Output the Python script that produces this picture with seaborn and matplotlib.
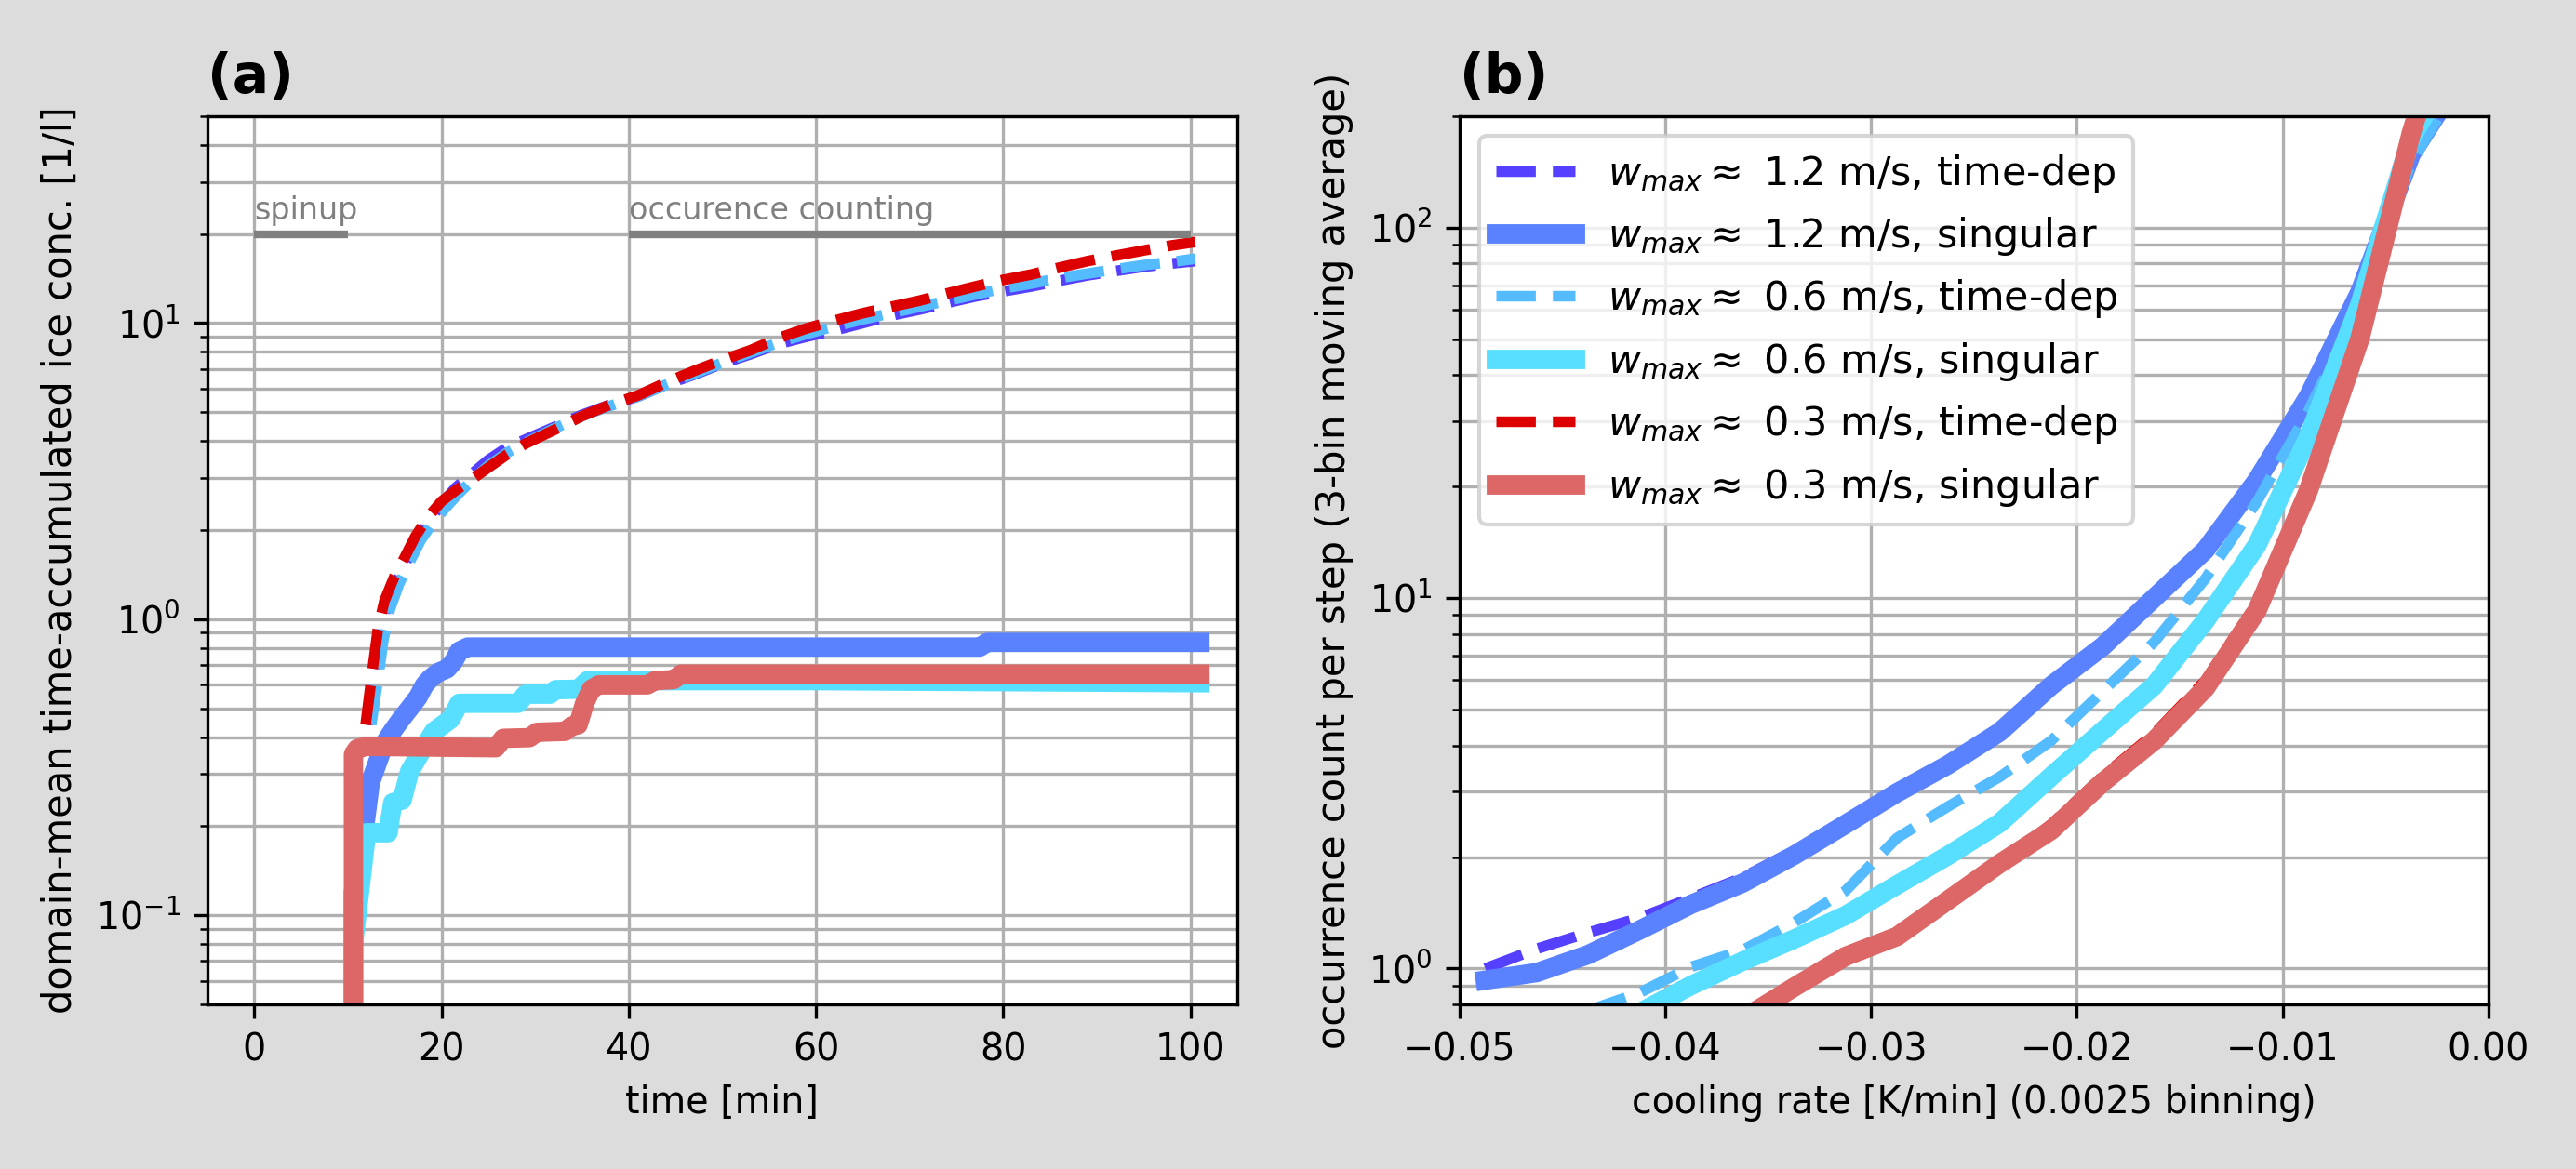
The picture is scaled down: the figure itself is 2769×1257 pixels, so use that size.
import numpy as np
import pandas as pd
import matplotlib
matplotlib.use("Agg")
import matplotlib.pyplot as plt
import seaborn as sns

# ---------------- data: panel (a) ----------------
# time-dependent runs (dashed)
td12_t = [12.1, 12.8, 13.4, 14.1, 15.2, 16.3, 17.5, 18.7, 20, 21.5, 23, 25, 27, 29, 32, 35, 38, 41, 44, 47, 50, 53, 56, 59, 62, 65, 68, 71, 74, 77, 80, 83, 86, 89, 92, 95, 98, 100.5]
td12_c = [0.44, 0.62, 0.85, 1.1, 1.35, 1.58, 1.88, 2.15, 2.45, 2.78, 3.05, 3.45, 3.8, 4.05, 4.45, 4.9, 5.3, 5.65, 6.2, 6.7, 7.3, 7.85, 8.5, 9.0, 9.45, 10.0, 10.6, 11.1, 11.7, 12.3, 12.8, 13.3, 13.9, 14.5, 15.0, 15.5, 15.9, 16.2]
td06_t = [12.5, 13.2, 13.8, 14.5, 15.5, 16.6, 17.8, 19, 20.3, 21.8, 23.3, 25, 27, 29, 32, 35, 38, 41, 44, 47, 50, 53, 56, 59, 62, 65, 68, 71, 74, 77, 80, 83, 86, 89, 92, 95, 98, 100.5]
td06_c = [0.44, 0.62, 0.85, 1.08, 1.32, 1.56, 1.85, 2.1, 2.35, 2.65, 2.95, 3.3, 3.65, 3.95, 4.4, 4.85, 5.25, 5.65, 6.2, 6.75, 7.35, 7.95, 8.6, 9.2, 9.75, 10.3, 10.8, 11.35, 11.9, 12.5, 13.1, 13.6, 14.2, 14.7, 15.2, 15.7, 16.1, 16.5]
td03_t = [11.9, 12.6, 13.2, 13.9, 15.0, 16.0, 17.2, 18.5, 20, 21.5, 23, 25, 27, 29, 32, 35, 38, 41, 44, 47, 50, 53, 56, 59, 62, 65, 68, 71, 74, 77, 80, 83, 86, 89, 92, 95, 98, 100.5]
td03_c = [0.44, 0.66, 0.92, 1.15, 1.4, 1.6, 1.9, 2.2, 2.5, 2.72, 2.93, 3.25, 3.6, 3.92, 4.35, 4.85, 5.3, 5.7, 6.3, 6.9, 7.5, 8.1, 8.9, 9.6, 10.2, 10.8, 11.35, 11.9, 12.6, 13.3, 14.0, 14.6, 15.4, 16.2, 16.9, 17.6, 18.3, 18.8]
# singular runs (solid, step-like)
sg12_t = [10.6, 10.6, 11.8, 12.4, 13.2, 13.9, 14.8, 15.7, 16.6, 17.5, 18.2, 18.8, 19.6, 20.6, 21.3, 21.9, 22.8, 50, 77.5, 78.3, 101]
sg12_c = [0.0, 0.12, 0.2, 0.28, 0.33, 0.38, 0.42, 0.46, 0.50, 0.545, 0.6, 0.63, 0.66, 0.68, 0.72, 0.78, 0.805, 0.805, 0.805, 0.835, 0.835]
sg06_t = [10.6, 10.6, 12.0, 14.3, 14.8, 15.8, 16.6, 17.9, 19.2, 21.0, 21.9, 28.2, 29.0, 31.6, 32.2, 34.6, 35.6, 60, 80, 101]
sg06_c = [0.0, 0.08, 0.19, 0.19, 0.24, 0.245, 0.306, 0.36, 0.418, 0.46, 0.52, 0.52, 0.558, 0.558, 0.578, 0.58, 0.62, 0.62, 0.615, 0.61]
sg03_t = [10.6, 10.6, 11.0, 12.0, 25.8, 26.6, 29.4, 30.2, 33.2, 33.9, 34.6, 35.3, 36.0, 36.8, 42.0, 42.8, 44.8, 45.6, 101]
sg03_c = [0.0, 0.35, 0.365, 0.372, 0.368, 0.396, 0.398, 0.415, 0.418, 0.435, 0.44, 0.52, 0.58, 0.60, 0.60, 0.62, 0.625, 0.652, 0.652]

phase_labels = ["spinup", "occurence counting"]
phase_start = [0, 40]
phase_end = [10, 100]
phase_level = 20

# ---------------- data: panel (b) ----------------
rate = [-0.04875, -0.04625, -0.04375, -0.04125, -0.03875, -0.03625, -0.03375, -0.03125, -0.02875, -0.02625,
        -0.02375, -0.02125, -0.01875, -0.01625, -0.01375, -0.01125, -0.00875, -0.00625, -0.00375, -0.00125]
occ_td12 = [1.0, 1.13, 1.25, 1.37, 1.55, 1.76, 2.08, 2.52, 3.05, 3.65, 4.45, 5.95, 7.6, 10.3, 13.9, 21.3, 35.6, 68, 158, 260]
occ_sg12 = [0.93, 0.975, 1.09, 1.27, 1.49, 1.70, 2.02, 2.45, 2.98, 3.55, 4.35, 5.8, 7.4, 10.0, 13.5, 20.8, 35, 67, 158, 260]
occ_td06 = [np.nan, np.nan, 0.77, 0.86, 1.01, 1.12, 1.33, 1.62, 2.25, 2.74, 3.29, 4.12, 5.6, 7.6, 11.3, 18.2, 32, 62, 150, 255]
occ_sg06 = [np.nan, np.nan, np.nan, 0.76, 0.90, 1.046, 1.20, 1.39, 1.68, 2.02, 2.47, 3.3, 4.38, 5.8, 8.7, 13.9, 27.2, 62, 175, 300]
occ_td03 = [np.nan, np.nan, np.nan, np.nan, np.nan, 0.73, 0.89, 1.078, 1.22, 1.53, 1.92, 2.45, 3.3, 4.3, 6.0, 9.7, 20.5, 51, 182, 500]
occ_sg03 = [np.nan, np.nan, np.nan, np.nan, np.nan, 0.73, 0.89, 1.078, 1.22, 1.53, 1.92, 2.36, 3.18, 4.12, 5.72, 9.25, 19.5, 50, 180, 500]

labels = [r"$w_{max} \approx$ 1.2 m/s, time-dep", r"$w_{max} \approx$ 1.2 m/s, singular",
          r"$w_{max} \approx$ 0.6 m/s, time-dep", r"$w_{max} \approx$ 0.6 m/s, singular",
          r"$w_{max} \approx$ 0.3 m/s, time-dep", r"$w_{max} \approx$ 0.3 m/s, singular"]
colors = ["#5540ff", "#5a82ff", "#55bbff", "#58dfff", "#dd0000", "#dd6666"]

# ---------------- figure ----------------
plt.rcParams["font.family"] = ["DejaVu Sans"]
plt.rcParams["font.size"] = 9
bg = "#dcdcdc"
fig = plt.figure(figsize=(2769 / 300, 1257 / 300), dpi=300, facecolor=bg)
axa = fig.add_axes([0.0805, 0.1408, 0.3998, 0.7598])
axb = fig.add_axes([0.5666, 0.1408, 0.3994, 0.7598])

LW_TD = 2.75
LW_SG = 5

series_a = [(td12_t, td12_c), (sg12_t, sg12_c), (td06_t, td06_c), (sg06_t, sg06_c), (td03_t, td03_c), (sg03_t, sg03_c)]
for i, (t, c) in enumerate(series_a):
    df = pd.DataFrame({"t": t, "c": c})
    dashed = (i % 2 == 0)
    sns.lineplot(data=df, x="t", y="c", ax=axa, estimator=None, sort=False,
                 color=colors[i], lw=LW_TD if dashed else LW_SG,
                 linestyle="--" if dashed else "-")

for lab, s, e in zip(phase_labels, phase_start, phase_end):
    axa.plot([s, e], [phase_level, phase_level], color="grey", lw=2, solid_capstyle="butt")
    axa.text(s, phase_level * 1.065, lab, color="grey", fontsize=8, ha="left", va="bottom")

axa.set_yscale("log")
axa.set_xlim(-5, 105)
axa.set_ylim(0.05, 50)
axa.grid(True, which="major", axis="x", color="#b0b0b0", lw=0.8)
axa.grid(True, which="both", axis="y", color="#b0b0b0", lw=0.8)
axa.set_xlabel("time [min]", fontsize=9.5)
axa.set_ylabel("domain-mean time-accumulated ice conc. [1/l]", fontsize=10)
axa.set_title("(a)", loc="left", fontweight="bold", fontsize=14)

series_b = [occ_td12, occ_sg12, occ_td06, occ_sg06, occ_td03, occ_sg03]
for i, occ in enumerate(series_b):
    df = pd.DataFrame({"rate": rate, "occ": occ}).dropna()
    dashed = (i % 2 == 0)
    sns.lineplot(data=df, x="rate", y="occ", ax=axb, estimator=None, sort=False,
                 color=colors[i], lw=LW_TD if dashed else LW_SG,
                 linestyle="--" if dashed else "-", label=labels[i])

axb.set_yscale("log")
axb.set_xlim(-0.05, 0.0)
axb.set_ylim(0.8, 200)
axb.grid(True, which="major", axis="x", color="#b0b0b0", lw=0.8)
axb.grid(True, which="both", axis="y", color="#b0b0b0", lw=0.8)
axb.set_xlabel("cooling rate [K/min] (0.0025 binning)", fontsize=9.5)
axb.set_ylabel("occurrence count per step (3-bin moving average)", fontsize=10)
axb.set_title("(b)", loc="left", fontweight="bold", fontsize=14)
axb.legend(loc="upper left", fontsize=10.3)

for ax in (axa, axb):
    ax.set_facecolor("white")
    ax.tick_params(labelsize=9.5)

fig.savefig("out.png", dpi=300, facecolor=bg)
